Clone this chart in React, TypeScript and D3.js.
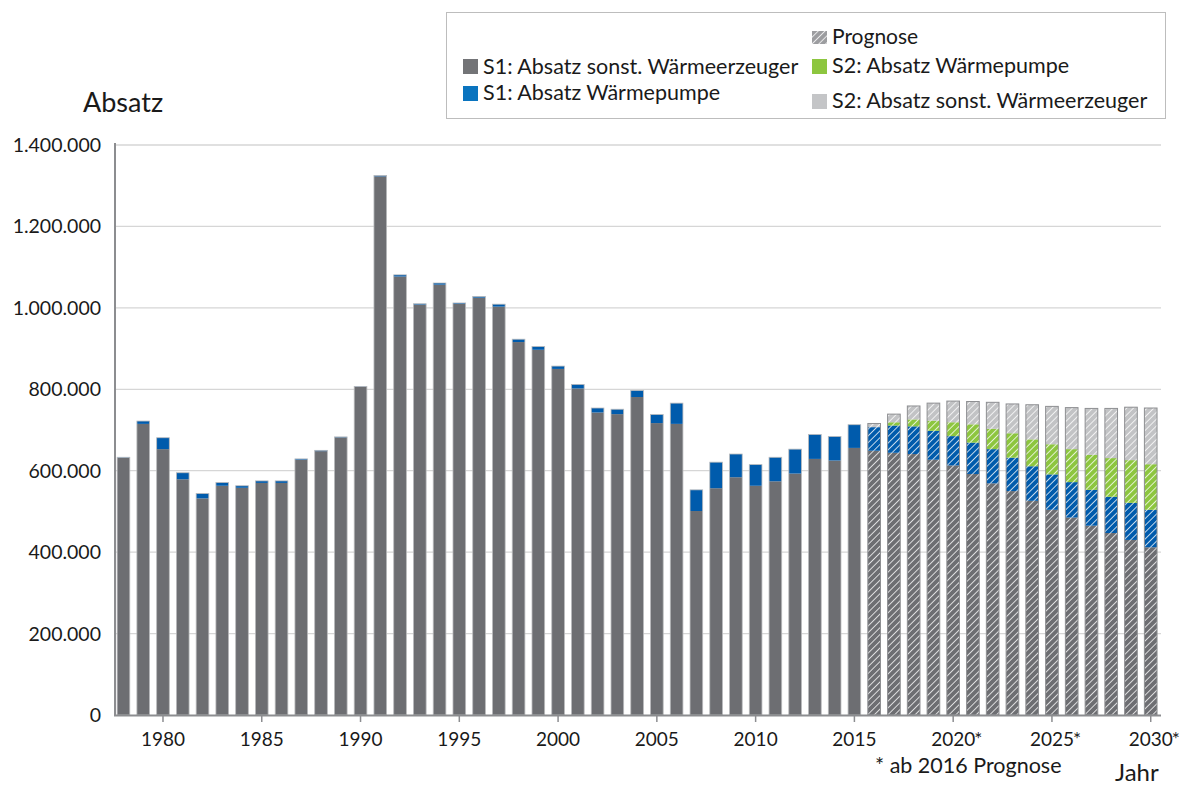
import React from "react";
import * as d3 from "d3";

const years: number[] = d3.range(1978, 2031);
const forecastStart = 2016;

// values in thousands
const s1Other: number[] = [
  632, 715, 653, 579, 532, 563, 558, 570, 570, 627, 648, 682, 806, 1323, 1077, 1008, 1057, 1010, 1025, 1003,
  916, 897, 850, 802, 743, 739, 781, 717, 715, 501, 557, 584, 563, 574, 593, 629, 625, 656,
  649, 644, 641, 627, 613, 592, 569, 550, 526, 504, 485, 465, 447, 430, 412,
];
const s1HeatPump: number[] = [
  1, 7, 28, 16, 12, 8, 5, 5, 5, 2, 2, 1, 1, 2, 4, 2, 4, 2, 3, 6,
  7, 8, 7, 10, 11, 12, 16, 21, 51, 52, 64, 57, 52, 59, 60, 60, 59, 57,
  58, 67, 68, 71, 72, 77, 84, 82, 85, 87, 87, 88, 89, 91, 92,
];
const s2HeatPump: number[] = [
  ...new Array(38).fill(0),
  0, 8, 17, 25, 34, 45, 50, 60, 66, 74, 81, 86, 95, 105, 112,
];
const s2Other: number[] = [
  ...new Array(38).fill(0),
  9, 20, 33, 43, 52, 56, 65, 72, 85, 93, 102, 114, 122, 130, 138,
];

const yTicks: number[] = [0, 200000, 400000, 600000, 800000, 1000000, 1200000, 1400000];
const xLabelYears: number[] = [1980, 1985, 1990, 1995, 2000, 2005, 2010, 2015, 2020, 2025, 2030];

const seriesNames = [
  "S1: Absatz sonst. Wärmeerzeuger",
  "S1: Absatz Wärmepumpe",
  "S2: Absatz Wärmepumpe",
  "S2: Absatz sonst. Wärmeerzeuger",
];
const barColors = ["#6d6e72", "#005bac", "#8dc63f", "#c2c3c5"];
const legendColors = ["#737477", "#0a74bf", "#8dc63f", "#c4c5c7"];

const FONT = "Lato, 'Open Sans', sans-serif";

export default function App() {
  const W = 1187;
  const H = 786;
  const x = d3
    .scaleBand<number>()
    .domain(years)
    .range([113.6, 1160.6])
    .paddingInner(0.36)
    .paddingOuter(0.18);
  const y = d3.scaleLinear().domain([0, 1400000]).range([715, 145]);
  const fmt = (v: number) => d3.format(",")(v).replace(/,/g, ".");

  const table = years.map((yr, i) => ({
    year: yr,
    a: s1Other[i] * 1000,
    b: s1HeatPump[i] * 1000,
    c: s2HeatPump[i] * 1000,
    d: s2Other[i] * 1000,
  }));
  const stack = d3.stack<any>().keys(["a", "b", "c", "d"])(table);

  return (
    <svg
      width={W}
      height={H}
      style={{ position: "fixed", left: 0, top: 0, background: "#fff" }}
      fontFamily={FONT}
    >
      <defs>
        <pattern
          id="hatch"
          patternUnits="userSpaceOnUse"
          width="4.8"
          height="4.8"
          patternTransform="rotate(45)"
        >
          <line x1="0" y1="0" x2="0" y2="4.8" stroke="#fff" strokeWidth="1.5" />
        </pattern>
      </defs>

      {/* gridlines */}
      {yTicks.slice(1).map((t) => (
        <line key={t} x1={115} x2={1161} y1={y(t)} y2={y(t)} stroke="#d6d6d6" strokeWidth={1.3} />
      ))}

      {/* bars */}
      {stack.map((layer, li) =>
        layer.map((seg, i) => {
          const yr = years[i];
          const v0 = seg[0];
          const v1 = seg[1];
          if (v1 - v0 <= 0) return null;
          const bx = x(yr)!;
          const bw = x.bandwidth();
          const y0 = y(v0);
          const y1 = y(v1);
          const fc = yr >= forecastStart;
          return (
            <g key={`${li}-${yr}`}>
              <rect x={bx} y={y1} width={bw} height={y0 - y1} fill={barColors[li]} />
              {fc && <rect x={bx} y={y1} width={bw} height={y0 - y1} fill="url(#hatch)" />}
            </g>
          );
        })
      )}
      {/* outlines */}
      {table.map((r) => {
        const total = r.a + r.b + r.c + r.d;
        const fc = r.year >= forecastStart;
        return (
          <rect
            key={`o-${r.year}`}
            x={x(r.year)!}
            y={y(total)}
            width={x.bandwidth()}
            height={y(0) - y(total)}
            fill="none"
            stroke={fc ? "#8e8f92" : "#b9babc"}
            strokeWidth={fc ? 1 : 0.8}
          />
        );
      })}

      {/* axes */}
      <line x1={115} x2={115} y1={143} y2={716} stroke="#8c8d90" strokeWidth={2} />
      <line x1={114} x2={1161} y1={715.5} y2={715.5} stroke="#8c8d90" strokeWidth={2} />
      {xLabelYears.map((yr) => (
        <line
          key={`t-${yr}`}
          x1={x(yr)! + x.bandwidth() / 2}
          x2={x(yr)! + x.bandwidth() / 2}
          y1={716}
          y2={722}
          stroke="#8c8d90"
          strokeWidth={1.5}
        />
      ))}

      {yTicks.map((t) => (
        <text key={`yl-${t}`} x={101} y={y(t)} dy="0.36em" textAnchor="end" fontSize={19.5} fill="#1a1a1a">
          {fmt(t)}
        </text>
      ))}
      {xLabelYears.map((yr) => {
        const cx = x(yr)! + x.bandwidth() / 2;
        return (
          <g key={`xl-${yr}`}>
            <text x={cx} y={746} textAnchor="middle" fontSize={19} fill="#1a1a1a">
              {yr}
            </text>
            {yr >= 2020 && (
              <text x={cx + 21} y={746} fontSize={19} fill="#1a1a1a">
                *
              </text>
            )}
          </g>
        );
      })}

      <text x={83} y={112} fontSize={27} fill="#1a1a1a">
        Absatz
      </text>
      <text x={1115} y={781} fontSize={24} fill="#1a1a1a">
        Jahr
      </text>
      <text x={875} y={773} fontSize={21.5} fill="#1a1a1a">
        * ab 2016 Prognose
      </text>

      {/* legend */}
      <rect x={446.5} y={12.5} width={719} height={106} fill="#fff" stroke="#bdbdbd" strokeWidth={1} />
      <g>
        <rect x={812} y={31} width={15} height={13} fill="#9c9da0" />
        <rect x={812} y={31} width={15} height={13} fill="url(#hatch)" />
        <text x={832} y={44} fontSize={21} fill="#1a1a1a">
          Prognose
        </text>
      </g>
      {[
        { i: 0, lx: 463, ly: 59, ty: 74 },
        { i: 1, lx: 463, ly: 86, ty: 100 },
        { i: 2, lx: 812, ly: 59, ty: 73 },
        { i: 3, lx: 812, ly: 94, ty: 108 },
      ].map((it) => (
        <g key={`lg-${it.i}`}>
          <rect x={it.lx} y={it.ly} width={15} height={15} fill={legendColors[it.i]} />
          <text x={it.lx + 20} y={it.ty} fontSize={21.5} fill="#1a1a1a">
            {seriesNames[it.i]}
          </text>
        </g>
      ))}
    </svg>
  );
}
